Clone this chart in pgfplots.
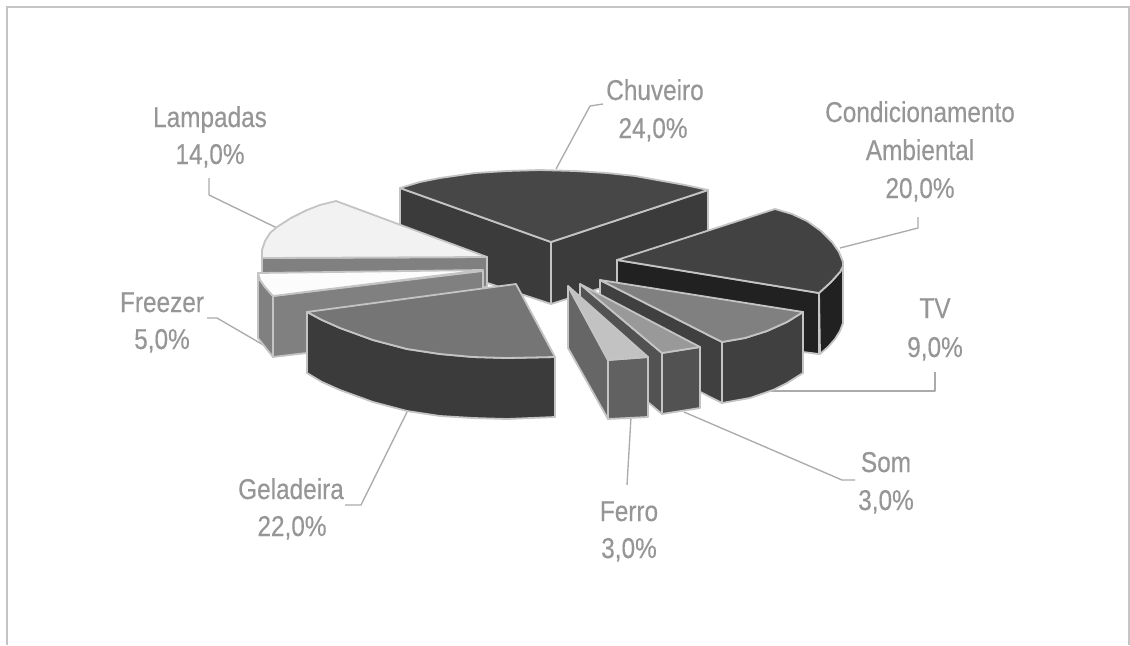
\documentclass[border=0pt]{standalone}
\usepackage{pgfplots}
\pgfplotsset{compat=1.18}
\usepackage{fontspec}
\setmainfont[FakeStretch=0.85,FakeBold=0.3]{Liberation Sans}
\definecolor{edge}{HTML}{C4C4C4}
\definecolor{leader}{HTML}{ABABAB}
\definecolor{labeltext}{HTML}{969696}
% one polygonal face of an exploded slice: fill colour, outline points
\newcommand{\face}[2]{\addplot[draw=edge,line width=1.35pt,line join=round,fill=#1] coordinates {#2} -- cycle;}
\newcommand{\leaderline}[1]{\addplot[draw=leader,line width=1pt,line join=round] coordinates {#1};}
\newcommand{\lab}[3]{\node[anchor=base,text=labeltext,inner sep=0pt,font=\fontsize{21.5}{26}\selectfont] at (axis cs:#1,#2) {#3};}
\begin{document}
\begin{tikzpicture}
\begin{axis}[
  scale only axis, width=847.5pt, height=483.75pt,
  xmin=0, xmax=1130, ymin=0, ymax=645, y dir=reverse,
  hide axis, clip=false, no markers,
]
% page ground and open frame
\addplot[draw=none,fill=white] coordinates {(0,0)(1130,0)(1130,645)(0,645)} -- cycle;
\addplot[draw=edge,line width=1.2pt] coordinates {(7,645)(7,7)(1129,7)(1129,645)};

% leader lines
\leaderline{(556,169)(590,106)(603,104)}
\leaderline{(840,248)(918,228)(918,217)}
\leaderline{(770,391)(935,391)(935,372)}
\leaderline{(684,412)(842,480)(855,480)}
\leaderline{(631,417)(627,485)}
\leaderline{(407,412)(361,505)(345,505)}
\leaderline{(272,350)(217,318)(207,318)}
\leaderline{(277,228)(209,195)(209,178)}

% Chuveiro
\face{black!77}{(400,188)(551,242)(551,304)(400,254)}
\face{black!77}{(551,242)(708,190)(708,254)(551,304)}
\face{black!72}{(400,188)(420,182)(440,178)(475,173)(507,171)(540,170)(575,171)(607,173)(635,176)(657,180)(685,185)(708,190)(551,242)}

% Lampadas
\face{black!50}{(262,258)(487,257)(487,287)(262,300)}
\face{black!5}{(262,258)(262,250)(265,241)(270,233)(277,227)(291,218)(307,210)(320,205)(336,201)(487,257)}

% Freezer
\face{black!50}{(258,273)(260,280)(265,287)(273,296)(273,357)(258,338)}
\face{black!50}{(273,296)(483,271)(483,332)(273,357)}
\face{black!1}{(258,273)(483,270)(273,296)(265,287)(260,280)}

% Geladeira
\face{black!77}{(307,312)(322,320)(340,328)(373,340)(407,349)(440,354)(473,357)(507,358)(555,357)(555,417)(507,419)(473,418)(440,416)(407,411)(373,402)(340,390)(322,382)(307,373)}
\face{black!54}{(307,312)(516,284)(555,357)(507,358)(473,357)(440,354)(407,349)(373,340)(340,328)(322,320)}

% Condicionamento Ambiental
\face{black!87}{(819,293)(831,282)(840,272)(843,266)(843,323)(840,331)(835,339)(828,347)(820,354)}
\face{black!87}{(617,260)(819,293)(819,354)(803,352)(617,322)}
\face{black!74}{(617,260)(775,209)(792,214)(807,221)(821,231)(832,242)(839,252)(843,262)(843,266)(840,272)(831,282)(819,293)}

% TV
\face{black!75}{(600,280)(722,342)(722,403)(600,341)}
\face{black!75}{(722,342)(745,338)(767,331)(787,322)(803,312)(803,373)(787,383)(773,390)(750,398)(722,403)}
\face{black!50}{(600,280)(803,312)(787,322)(767,331)(745,338)(722,342)}

% Som
\face{black!68}{(580,284)(662,353)(662,414)(580,345)}
\face{black!68}{(662,353)(700,347)(700,408)(662,414)}
\face{black!40}{(580,284)(700,347)(662,353)}

% Ferro
\face{black!60}{(568,286)(608,360)(608,419)(568,348)}
\face{black!62}{(608,360)(648,357)(648,417)(608,419)}
\face{black!24}{(568,286)(648,357)(608,360)}

% labels
\lab{655}{100}{Chuveiro}
\lab{653}{138}{24,0\%}
\lab{920}{122}{Condicionamento}
\lab{920}{160}{Ambiental}
\lab{920}{198}{20,0\%}
\lab{935}{318}{TV}
\lab{935}{357}{9,0\%}
\lab{886}{472}{Som}
\lab{886}{510}{3,0\%}
\lab{629}{521}{Ferro}
\lab{629}{558}{3,0\%}
\lab{291}{499}{Geladeira}
\lab{292}{536}{22,0\%}
\lab{162}{312}{Freezer}
\lab{162}{349}{5,0\%}
\lab{210}{127}{Lampadas}
\lab{210}{164}{14,0\%}
\end{axis}
\end{tikzpicture}
\end{document}
